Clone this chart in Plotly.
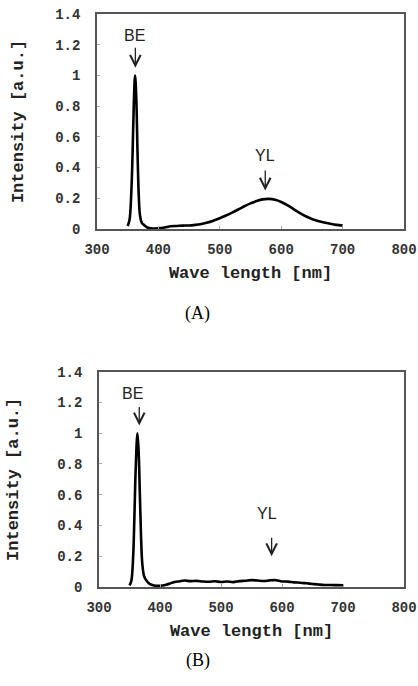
import plotly.graph_objects as go

# ---- data ----
wl_a = [350, 353, 356, 358, 360, 362, 364, 366, 368, 370, 373, 377, 382, 390, 400,
        410, 420, 430, 440, 450, 460, 470, 480, 490, 500, 510, 520, 530, 540, 550,
        560, 570, 580, 590, 600, 610, 620, 630, 640, 650, 660, 670, 680, 690, 700]
int_a = [0.02, 0.06, 0.25, 0.5, 0.82, 1.0, 0.85, 0.5, 0.22, 0.09, 0.04, 0.025, 0.01, 0.003, 0.005,
         0.01, 0.018, 0.02, 0.022, 0.023, 0.027, 0.033, 0.042, 0.055, 0.07, 0.088, 0.107, 0.127, 0.148, 0.167,
         0.182, 0.193, 0.196, 0.19, 0.176, 0.155, 0.13, 0.105, 0.083, 0.065, 0.052, 0.042, 0.034, 0.027, 0.022]

wl_b = [350, 353, 356, 358, 360, 363, 365, 367, 369, 371, 374, 378, 383, 390, 400,
        410, 420, 430, 440, 450, 460, 470, 480, 490, 500, 510, 520, 530, 540, 550,
        560, 570, 580, 590, 600, 610, 620, 630, 640, 650, 660, 670, 680, 690, 700]
int_b = [0.01, 0.04, 0.2, 0.45, 0.75, 1.0, 0.88, 0.6, 0.32, 0.15, 0.07, 0.04, 0.02, 0.01, 0.008,
         0.015, 0.028, 0.036, 0.042, 0.038, 0.04, 0.036, 0.034, 0.037, 0.033, 0.036, 0.032, 0.038, 0.041, 0.045,
         0.042, 0.039, 0.043, 0.044, 0.036, 0.035, 0.03, 0.028, 0.024, 0.02, 0.016, 0.013, 0.013, 0.012, 0.011]

x_ticks = [300, 400, 500, 600, 700, 800]
y_ticks = [0, 0.2, 0.4, 0.6, 0.8, 1, 1.2, 1.4]
y_tick_text = ["0", "0.2", "0.4", "0.6", "0.8", "1", "1.2", "1.4"]

W, H = 418, 686
mono = dict(family="Liberation Mono, Courier New, monospace", size=14, color="#333", weight="bold")
title_font = dict(family="Liberation Mono, Courier New, monospace", size=17, color="#222", weight="bold")

fig = go.Figure()
fig.add_trace(go.Scatter(x=wl_a, y=int_a, mode="lines", line=dict(color="black", width=2.6),
                         xaxis="x", yaxis="y", line_shape="spline", showlegend=False))
fig.add_trace(go.Scatter(x=wl_b, y=int_b, mode="lines", line=dict(color="black", width=2.6),
                         xaxis="x2", yaxis="y2", line_shape="spline", showlegend=False))

def xaxis(domain, anchor):
    return dict(domain=domain, anchor=anchor, range=[300, 800], tickvals=x_ticks,
                showline=True, linecolor="#555", linewidth=1.5, mirror=True,
                ticks="inside", ticklen=3, tickcolor="#aaa", showgrid=False, zeroline=False,
                tickfont=mono, ticklabelstandoff=6, automargin=False,
                title=dict(text="Wave length [nm]", font=title_font, standoff=10))

def yaxis(domain, anchor, standoff):
    return dict(domain=domain, anchor=anchor, range=[0, 1.4], tickvals=y_ticks, ticktext=y_tick_text,
                showline=True, linecolor="#555", linewidth=1.5, mirror=True,
                ticks="inside", ticklen=3, tickcolor="#aaa", showgrid=False, zeroline=False,
                tickfont=mono, ticklabelstandoff=12, automargin=False,
                title=dict(text="Intensity [a.u.]", font=title_font, standoff=standoff))

fig.update_layout(
    width=W, height=H, margin=dict(l=0, r=0, t=0, b=0, autoexpand=False),
    paper_bgcolor="white", plot_bgcolor="white",
    xaxis=xaxis([97 / W, 404 / W], "y"),
    yaxis=yaxis([1 - 229 / H, 1 - 14 / H], "x", 27),
    xaxis2=xaxis([99 / W, 404 / W], "y2"),
    yaxis2=yaxis([1 - 587 / H, 1 - 371.7 / H], "x2", 34),
)

lab = dict(family="Liberation Sans, Arial, sans-serif", size=16, color="#222")

def arrow(xr, yr, x, tail, tip):
    return dict(xref=xr, yref=yr, axref=xr, ayref=yr, x=x, y=tip, ax=x, ay=tail, text="",
                showarrow=True, arrowhead=5, arrowsize=1.6, arrowwidth=1.3, arrowcolor="#222")

ann = [
    dict(x=361, y=1.26, xref="x", yref="y", text="BE", showarrow=False, font=lab),
    arrow("x", "y", 362.5, 1.19, 1.05),
    dict(x=573, y=0.48, xref="x", yref="y", text="YL", showarrow=False, font=lab),
    arrow("x", "y", 574, 0.39, 0.25),
    dict(x=355, y=1.26, xref="x2", yref="y2", text="BE", showarrow=False, font=lab),
    arrow("x2", "y2", 366, 1.18, 1.05),
    dict(x=575, y=0.48, xref="x2", yref="y2", text="YL", showarrow=False, font=lab),
    arrow("x2", "y2", 583, 0.33, 0.2),
    dict(x=197.5 / W, y=1 - 313 / H, xref="paper", yref="paper", text="(A)", showarrow=False,
         font=dict(family="Liberation Serif, Times New Roman, serif", size=18, color="black")),
    dict(x=197.5 / W, y=1 - 673 / H, xref="paper", yref="paper", text="(B)", showarrow=False,
         font=dict(family="Liberation Serif, Times New Roman, serif", size=18, color="black")),
]
fig.update_layout(annotations=ann)

fig.write_html("out.html", config={"displayModeBar": False},
               post_script="document.body.style.margin='0';")
